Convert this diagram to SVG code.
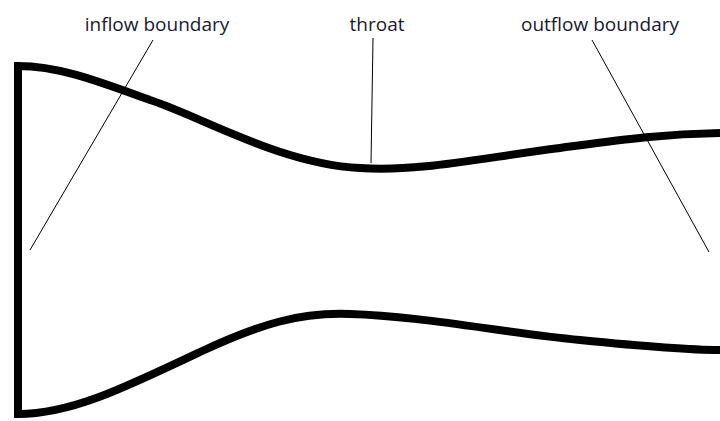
<svg xmlns="http://www.w3.org/2000/svg" width="720" height="421" viewBox="0 0 720 421">
<style>
.wall{fill:none;stroke:#000;stroke-width:8;stroke-linejoin:miter}
.lbl{font-family:"Open Sans","Liberation Sans",sans-serif;font-size:19px;fill:#1a1a2e;text-anchor:middle}
.lead{stroke:#000;stroke-width:1;fill:none}
</style>
<rect width="720" height="421" fill="#fff"/>
<g id="nozzle">
<path class="wall" d="M720,133 C660,134 620,140 560,148 C480,158 420,172 360,168 C280,164 200,116 150,100 C100,82 60,66 18,66 L18,414 C70,414 120,390 200,352 C260,324 300,312 350,314 C420,316 500,332 580,340 C640,346 690,350 720,350"/>
</g>
<g id="connectors">
<line class="lead" x1="153" y1="40" x2="30" y2="250"/>
<line class="lead" x1="373" y1="38" x2="371" y2="163"/>
<line class="lead" x1="592" y1="40" x2="709" y2="252"/>
</g>
<g id="label-inflow"><text class="lbl" x="157" y="31">inflow boundary</text></g>
<g id="label-throat"><text class="lbl" x="377" y="31">throat</text></g>
<g id="label-outflow"><text class="lbl" x="600" y="31">outflow boundary</text></g>
</svg>
